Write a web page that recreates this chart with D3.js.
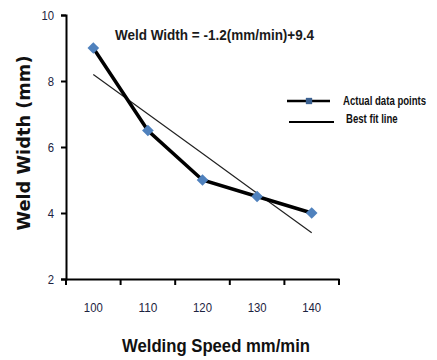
<!DOCTYPE html>
<html><head><meta charset="utf-8">
<script src="https://cdn.jsdelivr.net/npm/d3@7"></script>
<style>body{margin:0;background:#fff;} svg{display:block;}</style>
</head><body>
<script>
const categories = ["100","110","120","130","140"];
const actualValues = [9, 6.5, 5, 4.5, 4];
const fitValues = [8.2, 7.0, 5.8, 4.6, 3.4];
const yTicks = [2, 4, 6, 8, 10];
const seriesNames = ["Actual data points", "Best fit line"];
const equationText = "Weld Width = -1.2(mm/min)+9.4";
const xTitle = "Welding Speed mm/min";
const yTitle = "Weld Width (mm)";

(function(){
const W = 437, H = 360;
const font = "'Liberation Sans', Arial, sans-serif";
const svg = d3.select("body").append("svg").attr("width", W).attr("height", H);

const mLeft = 66, mRight = 339, mTop = 15, mBottom = 279;
const x = d3.scaleBand().domain(categories).range([mLeft, mRight]).padding(0);
const y = d3.scaleLinear().domain([2, 10]).range([mBottom, mTop]);
const cx = c => x(c) + x.bandwidth() / 2;

const yAxis = svg.append("g").attr("transform", `translate(${mLeft},0)`)
  .call(d3.axisLeft(y).tickValues(yTicks).tickSize(5).tickFormat(d3.format("d")));
const xAxis = svg.append("g").attr("transform", `translate(0,${mBottom})`)
  .call(d3.axisBottom(x).tickSize(0).tickPadding(24));
const bounds = categories.map(c => x(c)).concat([mRight]);
xAxis.selectAll(".bt").data(bounds).enter().append("line")
  .attr("x1", d => d).attr("x2", d => d).attr("y1", 0).attr("y2", 6)
  .attr("stroke", "#000").attr("stroke-width", 2);
[yAxis, xAxis].forEach(a => {
  a.select(".domain").attr("stroke", "#000").attr("stroke-width", 2);
  a.selectAll(".tick line").attr("stroke", "#000").attr("stroke-width", 2);
  a.selectAll("text").attr("font-family", font).attr("font-size", 13).attr("fill", "#1c2340")
    .attr("textLength", d => String(d).length * 6.3).attr("lengthAdjust", "spacingAndGlyphs");
});
yAxis.selectAll("text").attr("dx", "-4");

svg.append("path").datum(fitValues)
  .attr("d", d3.line().x((d, i) => cx(categories[i])).y(d => y(d)))
  .attr("fill", "none").attr("stroke", "#222").attr("stroke-width", 1.2);

svg.append("path").datum(actualValues)
  .attr("d", d3.line().x((d, i) => cx(categories[i])).y(d => y(d)))
  .attr("fill", "none").attr("stroke", "#000").attr("stroke-width", 3.5);

svg.selectAll(".pt").data(actualValues).enter().append("path")
  .attr("d", d3.symbol().type(d3.symbolSquare).size(68))
  .attr("transform", (d, i) => `translate(${cx(categories[i])},${y(d)}) rotate(45)`)
  .attr("fill", "#4f81bd");

svg.append("text").attr("x", 115).attr("y", 40)
  .attr("font-family", font).attr("font-weight", "bold").attr("font-size", 14)
  .attr("textLength", 199).attr("lengthAdjust", "spacingAndGlyphs")
  .attr("fill", "#1a1a1a").text(equationText);

const lg = svg.append("g");
lg.append("line").attr("x1", 287).attr("x2", 330).attr("y1", 101).attr("y2", 101)
  .attr("stroke", "#000").attr("stroke-width", 2.5);
lg.append("path").attr("d", d3.symbol().type(d3.symbolSquare).size(40))
  .attr("transform", "translate(309,101)").attr("fill", "#3a6090");
lg.append("line").attr("x1", 289).attr("x2", 334).attr("y1", 122).attr("y2", 122)
  .attr("stroke", "#000").attr("stroke-width", 2);
lg.append("text").attr("transform", "translate(343,105) scale(0.8,1)").attr("font-family", font)
  .attr("font-weight", "bold").attr("font-size", 12)
  .attr("fill", "#111").text(seriesNames[0]);
lg.append("text").attr("transform", "translate(346,123) scale(0.8,1)").attr("font-family", font)
  .attr("font-weight", "bold").attr("font-size", 12)
  .attr("fill", "#111").text(seriesNames[1]);

svg.append("text").attr("x", 122).attr("y", 352)
  .attr("font-family", font).attr("font-weight", "bold").attr("font-size", 19)
  .attr("textLength", 188).attr("lengthAdjust", "spacingAndGlyphs")
  .attr("fill", "#111").text(xTitle);
svg.append("text").attr("transform", "translate(30,143) rotate(-90)").attr("text-anchor", "middle")
  .attr("font-family", "'DejaVu Sans', sans-serif").attr("font-weight", "bold").attr("font-size", 17)
  .attr("textLength", 175).attr("lengthAdjust", "spacingAndGlyphs")
  .attr("fill", "#111").text(yTitle);
})();
</script>
</body></html>
